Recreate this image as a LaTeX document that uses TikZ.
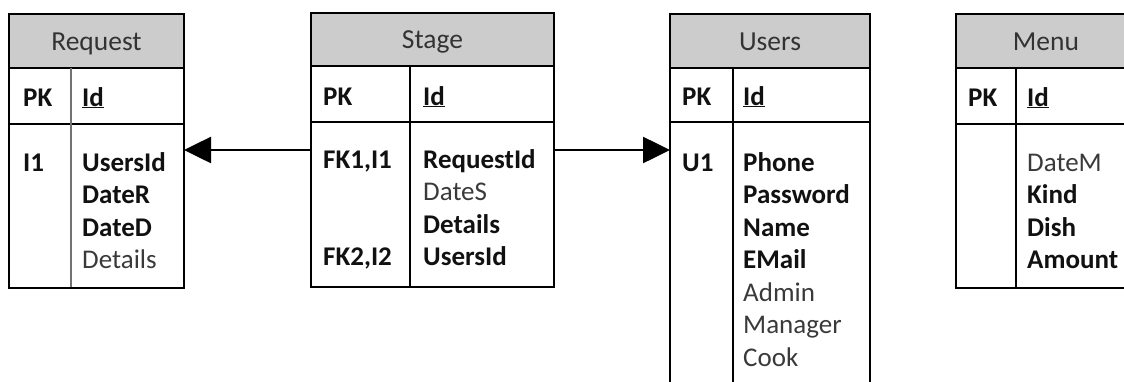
\documentclass[tikz,border=0pt]{standalone}
\usepackage{fontspec}
\setmainfont{Carlito}
\usetikzlibrary{arrows.meta}
\definecolor{hdrgray}{HTML}{CCCCCC}
\definecolor{titlegray}{HTML}{333333}
\definecolor{plaingray}{HTML}{3A3A3A}
\definecolor{keyblack}{HTML}{111111}
\begin{document}
\begin{tikzpicture}[
  x=1pt, y=-1pt,
  tablebox/.style={draw=black, line width=2pt, inner sep=0pt, outer sep=0pt},
  rule/.style={draw=black, line width=2pt},
  softrule/.style={draw=black!55, line width=2.4pt},
  ttl/.style={font=\fontsize{27.5}{30}\selectfont, text=titlegray, anchor=base, inner sep=0pt},
  plain/.style={font=\fontsize{27}{30}\selectfont, text=plaingray, anchor=base west, inner sep=0pt},
  keyf/.style={plain, font=\fontsize{27}{30}\selectfont\bfseries, text=keyblack},
  fk/.style={draw=black, line width=2.6pt, -{Triangle[length=27pt,width=26pt]}}
]
\useasboundingbox (0,0) rectangle (1124,381);
\clip (0,0) rectangle (1124,381);

% ---------- Request ----------
\fill[hdrgray] (9,14) rectangle (184,68);
\draw[rule] (9,68) -- (184,68);
\draw[rule] (9,124) -- (184,124);
\draw[softrule] (71,68) -- (71,288);
\node[tablebox, minimum width=175pt, minimum height=274pt] (request) at (96.5,151) {};
\node[ttl] (reqttl) at (96.5,50) {Request};
\node[keyf] (reqpk) at (23,106) {PK};
\node[keyf] (reqid) at (82,106) {\underline{Id}};
\node[keyf] (reqi1) at (23,171) {I1};
\node[keyf] (requsers) at (82,171) {UsersId};
\node[keyf] (reqdater) at (82,203.5) {DateR};
\node[keyf] (reqdated) at (82,236) {DateD};
\node[plain] (reqdetails) at (82,268.5) {Details};

% ---------- Stage ----------
\fill[hdrgray] (311,13) rectangle (554,66);
\draw[rule] (311,66) -- (554,66);
\draw[rule] (311,122) -- (554,122);
\draw[rule] (410,66) -- (410,287);
\node[tablebox, minimum width=243pt, minimum height=274pt] (stage) at (432.5,150) {};
\node[ttl] (stgttl) at (432.5,48) {Stage};
\node[keyf] (stgpk) at (323,105) {PK};
\node[keyf] (stgid) at (423,105) {\underline{Id}};
\node[keyf] (stgfk1) at (323,168) {FK1,I1};
\node[keyf] (stgreq) at (423,168) {RequestId};
\node[plain] (stgdate) at (423,200.5) {DateS};
\node[keyf] (stgdetails) at (423,233) {Details};
\node[keyf] (stgfk2) at (323,265.5) {FK2,I2};
\node[keyf] (stgusers) at (423,265.5) {UsersId};

% ---------- Users ----------
\fill[hdrgray] (670,14) rectangle (870,68);
\draw[rule] (670,68) -- (870,68);
\draw[rule] (670,122) -- (870,122);
\draw[rule] (733,68) -- (733,400);
\node[tablebox, minimum width=200pt, minimum height=386pt] (users) at (770,207) {};
\node[ttl] (usrttl) at (770,50) {Users};
\node[keyf] (usrpk) at (682,105) {PK};
\node[keyf] (usrid) at (743,105) {\underline{Id}};
\node[keyf] (usru1) at (682,171) {U1};
\node[keyf] (usrphone) at (743,171) {Phone};
\node[keyf] (usrpass) at (743,203.5) {Password};
\node[keyf] (usrname) at (743,236) {Name};
\node[keyf] (usrmail) at (743,268.5) {EMail};
\node[plain] (usradmin) at (743,301) {Admin};
\node[plain] (usrmanager) at (743,333.5) {Manager};
\node[plain] (usrcook) at (743,366) {Cook};

% ---------- Menu ----------
\fill[hdrgray] (956,14) rectangle (1136,68);
\draw[rule] (956,68) -- (1136,68);
\draw[rule] (956,124) -- (1136,124);
\draw[rule] (1016,68) -- (1016,288);
\node[tablebox, minimum width=180pt, minimum height=274pt] (menu) at (1046,151) {};
\node[ttl] (menttl) at (1046,50) {Menu};
\node[keyf] (menpk) at (968,106) {PK};
\node[keyf] (menid) at (1027,106) {\underline{Id}};
\node[plain] (mendate) at (1027,171) {DateM};
\node[keyf] (menkind) at (1027,203.5) {Kind};
\node[keyf] (mendish) at (1027,236) {Dish};
\node[keyf] (menamount) at (1027,268.5) {Amount};

% ---------- foreign keys ----------
\draw[fk] (stage.west) -- (request.east |- stage.west);
\draw[fk] (stage.east) -- (users.west |- stage.east);
\end{tikzpicture}
\end{document}
